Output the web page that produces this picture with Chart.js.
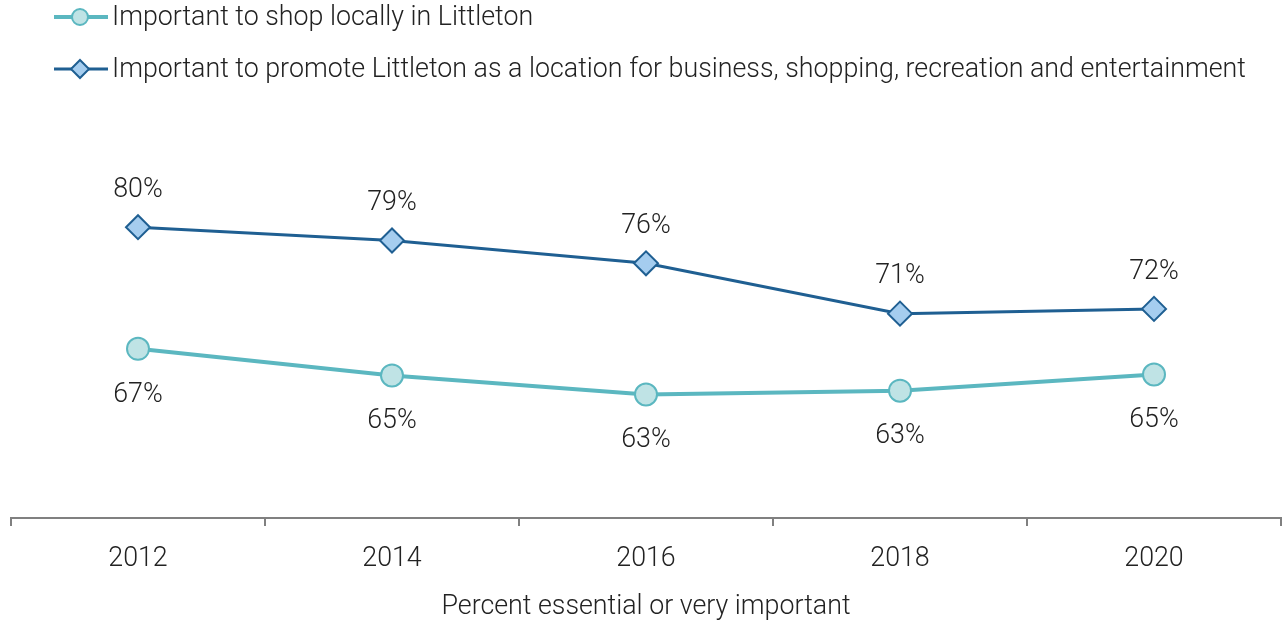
<!DOCTYPE html>
<html>
<head>
<meta charset="utf-8">
<script src="https://cdn.jsdelivr.net/npm/chart.js@4/dist/chart.umd.min.js"></script>
<style>
  html, body { margin: 0; padding: 0; background: #fff; overflow: hidden; }
  #wrap { width: 1283px; height: 624px; position: relative; }
  canvas { display: block; }
</style>
</head>
<body>
<div id="wrap"><canvas id="chart"></canvas></div>
<script>
// data
const years = ['2012', '2014', '2016', '2018', '2020'];
const shopLocally = [67.4, 64.6, 62.6, 63.0, 64.7];
const promoteLittleton = [80.2, 78.8, 76.4, 71.1, 71.6];
const seriesNames = [
  'Important to shop locally in Littleton',
  'Important to promote Littleton as a location for business, shopping, recreation and entertainment'
];
const axisTitle = 'Percent essential or very important';

const FONT = 'Roboto';
const FSIZE = 26.8;
const TEXT = '#222222';

// legend with line + marker, drawn on the canvas
const lineLegend = {
  id: 'lineLegend',
  afterDraw(chart) {
    const ctx = chart.ctx;
    const rows = [17, 69];
    chart.data.datasets.forEach(function (ds, i) {
      const y = rows[i];
      ctx.save();
      ctx.strokeStyle = ds.borderColor;
      ctx.lineWidth = ds.borderWidth;
      ctx.beginPath();
      ctx.moveTo(54, y);
      ctx.lineTo(108, y);
      ctx.stroke();
      ctx.fillStyle = ds.pointBackgroundColor;
      ctx.strokeStyle = ds.pointBorderColor;
      ctx.lineWidth = 2;
      ctx.beginPath();
      if (ds.pointStyle === 'circle') {
        ctx.arc(80, y, 8, 0, Math.PI * 2);
      } else {
        ctx.moveTo(80, y - 9); ctx.lineTo(89, y); ctx.lineTo(80, y + 9); ctx.lineTo(71, y); ctx.closePath();
      }
      ctx.fill();
      ctx.stroke();
      ctx.fillStyle = TEXT;
      ctx.font = '300 ' + FSIZE + 'px ' + FONT;
      ctx.textBaseline = 'middle';
      ctx.textAlign = 'left';
      ctx.fillText(ds.label, 112, y + 1);
      ctx.restore();
    });
  }
};

// percent labels: above for the dark line, below for the light one
const valueLabels = {
  id: 'valueLabels',
  afterDatasetsDraw(chart) {
    const ctx = chart.ctx;
    ctx.save();
    ctx.font = '300 ' + FSIZE + 'px ' + FONT;
    ctx.fillStyle = TEXT;
    ctx.textAlign = 'center';
    ctx.textBaseline = 'middle';
    chart.data.datasets.forEach(function (ds, i) {
      const meta = chart.getDatasetMeta(i);
      meta.data.forEach(function (pt, j) {
        const off = i === 0 ? 46 : -37;
        ctx.fillText(Math.round(ds.data[j]) + '%', pt.x, pt.y + off);
      });
    });
    ctx.restore();
  }
};

new Chart(document.getElementById('chart'), {
  type: 'line',
  data: {
    labels: years,
    datasets: [
      {
        label: seriesNames[0],
        data: shopLocally,
        borderColor: '#5bb7c0',
        borderWidth: 4,
        pointStyle: 'circle',
        pointRadius: 11,
        pointBorderWidth: 2,
        pointBackgroundColor: '#bfe3e5',
        pointBorderColor: '#5bb7c0',
        tension: 0
      },
      {
        label: seriesNames[1],
        data: promoteLittleton,
        borderColor: '#1f5f92',
        borderWidth: 3,
        pointStyle: 'rectRot',
        pointRadius: 12,
        pointBorderWidth: 2,
        pointBackgroundColor: '#a5cdef',
        pointBorderColor: '#1f5f92',
        tension: 0
      }
    ]
  },
  options: {
    responsive: true,
    maintainAspectRatio: false,
    animation: false,
    layout: { autoPadding: false, padding: { top: 39, left: 11, right: 2, bottom: 0 } },
    plugins: {
      legend: { display: false },
      tooltip: { enabled: false }
    },
    scales: {
      x: {
        offset: true,
        afterFit: function (scale) { scale.height = 106; },
        grid: {
          offset: true,
          drawOnChartArea: false,
          drawTicks: true,
          tickLength: 8,
          color: '#808080',
          lineWidth: 2
        },
        border: { display: true, color: '#808080', width: 2 },
        ticks: {
          color: TEXT,
          padding: 17,
          font: { family: FONT, size: FSIZE, weight: 300 }
        },
        title: {
          display: true,
          text: axisTitle,
          color: TEXT,
          padding: { top: 10, bottom: 1 },
          font: { family: FONT, size: FSIZE, weight: 300 }
        }
      },
      y: {
        display: false,
        min: 49.6,
        max: 100
      }
    }
  },
  plugins: [lineLegend, valueLabels]
});
</script>
</body>
</html>
